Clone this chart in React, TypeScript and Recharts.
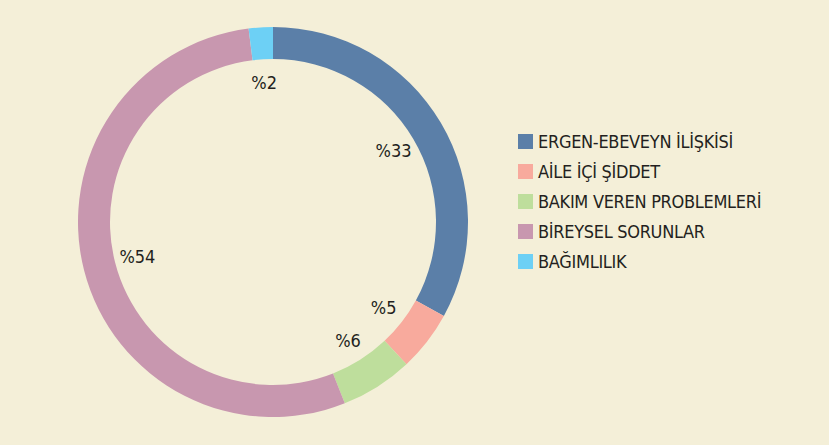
import { PieChart, Pie, Cell, Legend } from "recharts";

const categories = [
  "ERGEN-EBEVEYN İLİŞKİSİ",
  "AİLE İÇİ ŞİDDET",
  "BAKIM VEREN PROBLEMLERİ",
  "BİREYSEL SORUNLAR",
  "BAĞIMLILIK",
];
const values = [33, 5, 6, 54, 2];
const colors = ["#5B7FA8", "#F8AA9D", "#BEDE9C", "#C897AF", "#6DD0F5"];

const data = categories.map((name, i) => ({ name, value: values[i] }));

const FONT = "'Liberation Sans Narrow', 'DejaVu Sans Condensed', sans-serif";
const RAD = Math.PI / 180;

const renderLabel = (props: any) => {
  const { cx, cy, midAngle, value } = props;
  const r = 140;
  const x = cx + r * Math.cos(-midAngle * RAD);
  const y = cy + r * Math.sin(-midAngle * RAD);
  return (
    <text
      x={x}
      y={y}
      fill="#231F20"
      fontSize={18}
      fontFamily={FONT}
      textAnchor="middle"
      dominantBaseline="central"
    >
      %{value}
    </text>
  );
};

const LegendContent = () => (
  <div style={{ fontFamily: FONT }}>
    {categories.map((c, i) => (
      <div key={c} style={{ display: "flex", alignItems: "center", height: 30 }}>
        <div style={{ width: 15, height: 15, background: colors[i], marginRight: 5, flexShrink: 0 }} />
        <span style={{ color: "#231F20", fontSize: 18, letterSpacing: -0.3, whiteSpace: "nowrap" }}>{c}</span>
      </div>
    ))}
  </div>
);

export default function App() {
  return (
    <div style={{ width: 829, height: 445, background: "#F4EFD8" }}>
      <style>{`body{margin:0}`}</style>
      <PieChart width={829} height={445} margin={{ top: 0, right: 0, bottom: 0, left: 0 }}>
        <Pie
          data={data}
          dataKey="value"
          cx={273}
          cy={222}
          outerRadius={195}
          innerRadius={163}
          startAngle={90}
          endAngle={-270}
          stroke="none"
          label={renderLabel}
          labelLine={false}
          isAnimationActive={false}
        >
          {data.map((d, i) => (
            <Cell key={d.name} fill={colors[i]} />
          ))}
        </Pie>
        <Legend
          content={<LegendContent />}
          wrapperStyle={{ position: "absolute", left: 518, top: 126, width: 300 }}
        />
      </PieChart>
    </div>
  );
}
